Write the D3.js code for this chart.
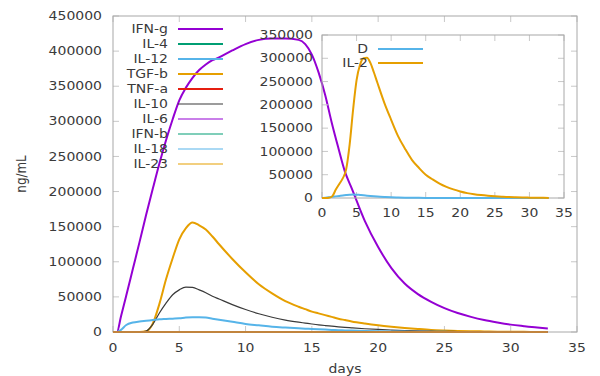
<!DOCTYPE html>
<html>
<head>
<meta charset="utf-8">
<script src="https://cdn.jsdelivr.net/npm/d3@7"></script>
<style>
  body { margin: 0; background: #fff; }
  svg text { font-family: "DejaVu Sans", sans-serif; font-size: 14px; fill: #3a3a3a; }
  svg text.sq { transform-box: fill-box; transform-origin: center; transform: scaleY(0.85); }
</style>
</head>
<body>
<svg width="600" height="376"></svg>
<script>
// ---- main plot data (days / ng/mL) ----
const days = [0, 0.3, 0.6, 1, 1.5, 2, 2.5, 3, 3.5, 4, 4.5, 5, 5.5, 6, 6.5, 7, 7.5, 8, 9, 10, 11, 12, 13, 14,
  14.5, 15, 15.5, 16, 16.5, 17, 17.5, 18, 19, 20, 21, 22, 23, 24, 25, 26, 27, 28, 29, 30, 31, 32, 32.8];

const ifng = [0, 0, 22000, 52000, 90000, 128000, 167000, 204000, 240000, 273000, 303000, 330000, 348000, 362000,
  373000, 381000, 387000, 391000, 401000, 410000, 416000, 418000, 418000, 416000,
  410000, 395000, 370000, 338000, 298000, 262000, 228000, 205000, 158000, 121000, 91000, 69000, 54000, 43000,
  34000, 27000, 21500, 17000, 13500, 10500, 8300, 6300, 5000];

const tgfb = [0, 0, 0, 0, 0, 0, 1000, 12000, 40000, 75000, 105000, 132000, 148000, 156000, 152000, 146000, 136000,
  125000, 104000, 85000, 68000, 55000, 44000, 36000,
  32500, 29000, 26500, 24000, 21500, 19000, 17000, 15000, 12000, 9500, 7500, 5800, 4300, 3000,
  2200, 1600, 1100, 800, 500, 300, 200, 100, 0];

const il10 = [0, 0, 0, 0, 0, 0, 1500, 11000, 27000, 41000, 53000, 60000, 64000, 63500, 60000, 56000, 51000,
  47000, 39000, 32000, 26000, 21000, 17000, 14000,
  12700, 11400, 10200, 9200, 8300, 7400, 6600, 5900, 4600, 3600, 2800, 2100, 1600, 1200,
  900, 700, 500, 400, 300, 200, 100, 100, 100];

const il12 = [0, 0, 3000, 10000, 13500, 15000, 16000, 17000, 18000, 18500, 19000, 19500, 20500, 21000, 21000,
  20500, 19000, 17500, 14500, 11500, 9500, 7500, 6300, 5300,
  4800, 4300, 3800, 3400, 3000, 2600, 2300, 2000, 1500, 1100, 800, 600, 400, 300,
  200, 100, 100, 100, 0, 0, 0, 0, 0];

// series that stay at zero for the whole run
const flatDays = [0, 32.8];
const flatValues = [0, 0];

// ---- inset data ----
const insetDays = [0, 0.5, 1, 1.5, 2, 2.5, 3, 3.5, 4, 4.5, 5, 5.5, 6, 6.5, 7, 7.5, 8, 9, 10, 11, 12, 13, 14, 15,
  16, 17, 18, 19, 20, 21, 22, 23, 24, 25, 26, 27, 28, 29, 30, 31, 32, 32.8];

const dValues = [0, 800, 1500, 2500, 3500, 4500, 5500, 6300, 7000, 7400, 7200, 6500, 5800, 5000, 4300, 3700, 3100,
  2200, 1500, 1000, 700, 500, 300, 200, 100, 100, 100, 0, 0, 0, 0, 0, 0, 0, 0, 0, 0, 0, 0, 0, 0, 0];

const il2 = [0, 0, 500, 4000, 18000, 30000, 42000, 62000, 115000, 190000, 253000, 286000, 300000, 301000, 290000,
  270000, 248000, 205000, 168000, 133000, 106000, 82000, 65000, 50000, 40000, 31000, 24000, 18500, 14000,
  10500, 8000, 6200, 4800, 3700, 2800, 2000, 1500, 1100, 800, 500, 300, 200];

const xTicks = [0, 5, 10, 15, 20, 25, 30, 35];
const yTicks = [0, 50000, 100000, 150000, 200000, 250000, 300000, 350000, 400000, 450000];
const insetYTicks = [0, 50000, 100000, 150000, 200000, 250000, 300000, 350000];

// z = drawing order of the curves (the flat ones pile up on the zero line)
const mainSeries = [
  { name: "IFN-g", x: days, y: ifng, color: "#9400d3", width: 2, z: 0 },
  { name: "IL-4", x: flatDays, y: flatValues, color: "#009e73", width: 2, z: 4 },
  { name: "IL-12", x: days, y: il12, color: "#56b4e9", width: 2, z: 3 },
  { name: "TGF-b", x: days, y: tgfb, color: "#e69f00", width: 2, z: 1 },
  { name: "TNF-a", x: flatDays, y: flatValues, color: "#e51e10", width: 2, z: 7 },
  { name: "IL-10", x: days, y: il10, color: "#3a3a3a", width: 1.2, z: 2 },
  { name: "IL-6", x: flatDays, y: flatValues, color: "#9400d3", width: 2, opacity: 0.5, z: 5 },
  { name: "IFN-b", x: flatDays, y: flatValues, color: "#009e73", width: 2, opacity: 0.5, z: 6 },
  { name: "IL-18", x: flatDays, y: flatValues, color: "#56b4e9", width: 2, opacity: 0.5, z: 8 },
  { name: "IL-23", x: flatDays, y: flatValues, color: "#e69f00", width: 2, opacity: 0.5, z: 9 }
];

const insetSeries = [
  { name: "D", x: insetDays, y: dValues, color: "#56b4e9", width: 2, z: 0 },
  { name: "IL-2", x: insetDays, y: il2, color: "#e69f00", width: 2, z: 1 }
];

const svg = d3.select("svg");

// draws a framed gnuplot-like panel with inward ticks on all four sides
function drawPanel(box, xDomain, yDomain, xt, yt, series, legend) {
  const x = d3.scaleLinear().domain(xDomain).range([box.left, box.right]);
  const y = d3.scaleLinear().domain(yDomain).range([box.bottom, box.top]);
  const tick = 6;
  const g = svg.append("g");

  // ticks (bottom/top, left/right)
  xt.forEach(t => {
    g.append("line").attr("x1", x(t)).attr("x2", x(t)).attr("y1", box.bottom).attr("y2", box.bottom - tick)
      .attr("stroke", "#c8c8c8");
    g.append("line").attr("x1", x(t)).attr("x2", x(t)).attr("y1", box.top).attr("y2", box.top + tick)
      .attr("stroke", "#c8c8c8");
  });
  yt.forEach(t => {
    g.append("line").attr("x1", box.left).attr("x2", box.left + tick).attr("y1", y(t)).attr("y2", y(t))
      .attr("stroke", "#c8c8c8");
    g.append("line").attr("x1", box.right).attr("x2", box.right - tick).attr("y1", y(t)).attr("y2", y(t))
      .attr("stroke", "#c8c8c8");
  });

  g.append("rect").attr("x", box.left).attr("y", box.top)
    .attr("width", box.right - box.left).attr("height", box.bottom - box.top)
    .attr("fill", "none").attr("stroke", "#a8a8a8").attr("stroke-width", 1);

  // tick labels
  g.selectAll(".xl").data(xt).enter().append("text").attr("class", "sq")
    .attr("x", t => x(t)).attr("y", box.bottom + box.xLabelDy)
    .attr("text-anchor", "middle").attr("dominant-baseline", "central")
    .text(d => d);
  g.selectAll(".yl").data(yt).enter().append("text").attr("class", "sq")
    .attr("x", box.left - box.yLabelDx).attr("y", t => y(t))
    .attr("text-anchor", "end").attr("dominant-baseline", "central")
    .text(d => d);

  const line = d3.line().curve(d3.curveMonotoneX);
  series.slice().sort((a, b) => a.z - b.z).forEach(s => {
    const pts = s.x.map((d, i) => [x(d), y(s.y[i])]);
    g.append("path").attr("d", line(pts))
      .attr("fill", "none").attr("stroke", s.color).attr("stroke-width", s.width)
      .attr("stroke-opacity", s.opacity || 1).attr("stroke-linejoin", "round");
  });

  // key
  series.forEach((s, i) => {
    const ly = legend.top + i * legend.step;
    g.append("text").attr("class", "sq").attr("x", legend.textRight).attr("y", ly)
      .attr("text-anchor", "end").attr("dominant-baseline", "central").text(s.name);
    g.append("line").attr("x1", legend.lineX1).attr("x2", legend.lineX2).attr("y1", ly).attr("y2", ly)
      .attr("stroke", s.color).attr("stroke-width", s.width).attr("stroke-opacity", s.opacity || 1);
  });
  return { x, y };
}

drawPanel({ left: 113, right: 577, top: 16, bottom: 332, xLabelDy: 16, yLabelDx: 11 },
  [0, 35], [0, 450000], xTicks, yTicks, mainSeries,
  { top: 29, step: 15, textRight: 168, lineX1: 178, lineX2: 223 });

drawPanel({ left: 322, right: 564, top: 35, bottom: 198, xLabelDy: 15, yLabelDx: 9 },
  [0, 35], [0, 350000], xTicks, insetYTicks, insetSeries,
  { top: 49, step: 14, textRight: 368, lineX1: 378, lineX2: 423 });

// axis titles
svg.append("text").attr("class", "sq").attr("x", 345).attr("y", 369)
  .attr("text-anchor", "middle").attr("dominant-baseline", "central").text("days");
svg.append("text")
  .attr("text-anchor", "middle").attr("dominant-baseline", "central")
  .attr("transform", "translate(21,174) rotate(-90) scale(0.85,1)")
  .text("ng/mL");
</script>
</body>
</html>
